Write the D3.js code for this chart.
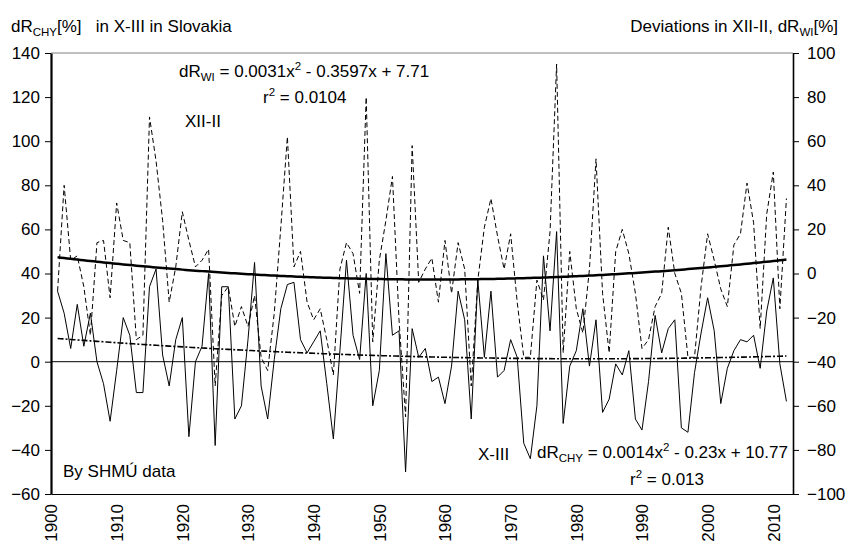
<!DOCTYPE html>
<html>
<head>
<meta charset="utf-8">
<script src="https://cdn.jsdelivr.net/npm/d3@7"></script>
<style>
  body { margin: 0; background: #fff; }
  svg { font-family: Arial, "Liberation Sans", sans-serif; }
  text { fill: #000; }
</style>
</head>
<body>
<svg id="chart" width="849" height="543"></svg>
<script>
const width = 849;
const height = 543;

// years 1901..2012
const years = d3.range(1901, 2013);

// X-III, dR_CHY [%] (left axis)
const chyValues = [
  32, 22, 6, 26, 7, 22, 0, -10, -27, -4,
  20, 12, -14, -14, 34, 42, 3, -11, 10, 20,
  -34, 0, 7, 40, -38, 34, 34, -26, -20, 10,
  45, -11, -26, 1, 24, 35, 36, 10, 4, 9,
  14, -10, -35, 5, 46, 12, 1, 40, -20, -4,
  49, 12, 14, -50, 15, 2, 6, -9, -7, -19,
  -2, 32, 19, -26, 37, 2, 32, -7, -4, 10,
  2, -37, -44, -20, 48, 14, 59, -28, -2, 5,
  24, -2, 19, -23, -17, -1, -6, 5, -26, -31,
  -9, 21, 4, 15, 19, -30, -32, -5, 13, 29,
  14, -19, -3, 5, 10, 9, 12, -3, 23, 38,
  -1, -18
];

// XII-II, dR_WI [%] (right axis)
const wiValues = [
  -8, 40, 6, 8, -6, -28, 14, 15, -11, 32,
  15, 14, -30, -28, 71, 51, 24, -13, 3, 28,
  15, 3, 6, 11, -51, -10, -6, -24, -15, -24,
  -10, -38, -44, -18, 21, 62, 3, 10, -13, -21,
  -16, -30, -46, 2, 14, 9, -9, 80, -31, 6,
  24, 44, -21, -65, 58, -4, 2, 7, -13, 15,
  -9, 14, 2, -51, -3, 21, 34, 17, 2, 18,
  -13, -38, -38, -3, -12, 19, 95, -36, 10, -16,
  -27, 2, 52, -9, -36, 10, 20, 9, -9, -34,
  -30, -15, -9, 21, 0, -9, -38, -38, -6, 18,
  6, -7, -15, 13, 18, 41, 23, -25, 27, 46,
  -16, 34
];

// quadratic trends as printed on the chart (x = year - 1900)
const wiTrend = [0.0031, -0.3597, 7.71];
const chyTrend = [0.0014, -0.23, 10.77];

const leftTicks = d3.range(-60, 141, 20);
const rightTicks = d3.range(-100, 101, 20);
const yearTicks = d3.range(1900, 2011, 10);

const FONT = 17;
const SMALL = 11.5;

const svg = d3.select("#chart");

const x = d3.scaleLinear().domain([1900, 2013]).range([51, 793]);
const yL = d3.scaleLinear().domain([-60, 140]).range([494, 53]);
const yR = d3.scaleLinear().domain([-100, 100]).range([494, 53]);

const chy = years.map((yr, i) => ({ year: yr, v: chyValues[i] }));
const wi = years.map((yr, i) => ({ year: yr, v: wiValues[i] }));

const quad = (c, t) => c[0] * t * t + c[1] * t + c[2];
const trendYears = d3.range(1901, 2012.01, 0.5);

// frame: top border and zero line
svg.append("line")
  .attr("x1", x(1900)).attr("x2", x(2013))
  .attr("y1", yL(140)).attr("y2", yL(140))
  .attr("stroke", "#808080").attr("stroke-width", 1);

svg.append("line")
  .attr("x1", x(1900)).attr("x2", x(2013))
  .attr("y1", yL(0)).attr("y2", yL(0))
  .attr("stroke", "#000").attr("stroke-width", 1);

// series lines
const lineL = d3.line().x((d) => x(d.year)).y((d) => yL(d.v));
const lineR = d3.line().x((d) => x(d.year)).y((d) => yR(d.v));

svg.append("path")
  .datum(wi)
  .attr("d", lineR)
  .attr("fill", "none")
  .attr("stroke", "#000")
  .attr("stroke-width", 1)
  .attr("stroke-dasharray", "5,3");

svg.append("path")
  .datum(chy)
  .attr("d", lineL)
  .attr("fill", "none")
  .attr("stroke", "#000")
  .attr("stroke-width", 1);

// trend lines
svg.append("path")
  .datum(trendYears.map((yr) => ({ year: yr, v: quad(wiTrend, yr - 1900) })))
  .attr("d", lineR)
  .attr("fill", "none")
  .attr("stroke", "#000")
  .attr("stroke-width", 2.5);

svg.append("path")
  .datum(trendYears.map((yr) => ({ year: yr, v: quad(chyTrend, yr - 1900) })))
  .attr("d", lineL)
  .attr("fill", "none")
  .attr("stroke", "#000")
  .attr("stroke-width", 1.6)
  .attr("stroke-dasharray", "6,2,2,2");

// axes
const axisL = svg.append("g")
  .attr("transform", `translate(${x(1900)},0)`)
  .call(d3.axisLeft(yL).tickValues(leftTicks).tickSize(6).tickSizeOuter(0).tickPadding(5));
axisL.select(".domain").attr("stroke-width", 2.2);

const axisR = svg.append("g")
  .attr("transform", `translate(${x(2013)},0)`)
  .call(d3.axisRight(yR).tickValues(rightTicks).tickSize(6).tickSizeOuter(0).tickPadding(8));
axisR.select(".domain").attr("stroke-width", 1.6);

const axisB = svg.append("g")
  .attr("transform", `translate(0,${yL(-60)})`)
  .call(d3.axisBottom(x).tickValues(yearTicks).tickSize(0).tickSizeOuter(0).tickFormat(d3.format("d")));
axisB.select(".domain").attr("stroke-width", 1.2);
axisB.selectAll("text")
  .attr("transform", "rotate(-90)")
  .attr("text-anchor", "end")
  .attr("x", -10)
  .attr("y", 0)
  .attr("dy", "0.35em");

svg.selectAll(".tick text").attr("font-size", FONT).attr("font-family", "Arial, 'Liberation Sans', sans-serif");

// titles and annotations
function label(xp, yp, parts, anchor) {
  const t = svg.append("text")
    .attr("x", xp).attr("y", yp)
    .attr("font-size", FONT)
    .attr("text-anchor", anchor || "start");
  parts.forEach((p) => {
    const s = t.append("tspan").text(p.t);
    if (p.sub) s.attr("font-size", SMALL).attr("dy", 4);
    if (p.sup) s.attr("font-size", SMALL).attr("dy", -7);
    if (p.back) s.attr("dy", p.back);
  });
  return t;
}

label(11, 32, [
  { t: "dR" }, { t: "CHY", sub: true }, { t: "[%]", back: -4 },
  { t: "\u00a0\u00a0 in X-III in Slovakia" }
]);

label(838, 32, [
  { t: "Deviations in XII-II, dR" }, { t: "WI", sub: true }, { t: "[%]", back: -4 }
], "end");

label(179, 77, [
  { t: "dR" }, { t: "WI", sub: true }, { t: " = 0.0031x", back: -4 },
  { t: "2", sup: true }, { t: " - 0.3597x + 7.71", back: 7 }
]);

label(263, 103, [{ t: "r" }, { t: "2", sup: true }, { t: " = 0.0104", back: 7 }]);

label(185, 127, [{ t: "XII-II" }]);

label(478, 460, [{ t: "X-III" }]);

label(537, 458, [
  { t: "dR" }, { t: "CHY", sub: true }, { t: " = 0.0014x", back: -4 },
  { t: "2", sup: true }, { t: " - 0.23x + 10.77", back: 7 }
]);

label(630, 485, [{ t: "r" }, { t: "2", sup: true }, { t: " = 0.013", back: 7 }]);

label(63, 477, [{ t: "By SHMÚ data" }]);
</script>
</body>
</html>
